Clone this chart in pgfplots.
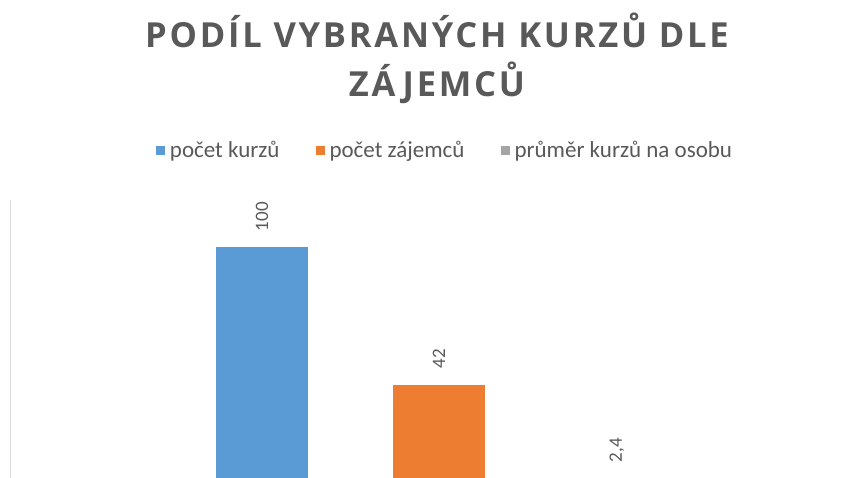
\documentclass[border=0pt]{standalone}
\usepackage{pgfplots}
\pgfplotsset{compat=1.18}
\usepackage{fontspec}
\setmainfont{Carlito}
\newfontfamily\titlefont[LetterSpace=8]{Open Sans}
\definecolor{cblue}{HTML}{5B9BD5}
\definecolor{corange}{HTML}{ED7D31}
\definecolor{cgray}{HTML}{A5A5A5}
\definecolor{ctext}{HTML}{595959}
\definecolor{caxis}{HTML}{D9D9D9}
\begin{document}
\begin{tikzpicture}
\begin{axis}[
  at={(0,0)}, anchor=origin,
  scale only axis,
  width=858bp, height=284bp,
  xmin=0, xmax=858, ymin=0, ymax=120,
  axis x line=none,
  axis y line*=left,
  y axis line style={draw=caxis, line width=0.9bp},
  ytick=\empty, xtick=\empty,
  clip=false,
  ybar, bar width=92, bar shift=0pt,
  /pgf/number format/use comma,
  /pgf/number format/assume math mode=true,
  nodes near coords,
  every node near coord/.append style={rotate=90, anchor=west, inner xsep=16bp, inner ysep=0pt,
    font=\fontsize{19bp}{22bp}\selectfont, text=ctext},
  legend columns=3,
  legend style={at={(0.507,1.176)}, anchor=center, draw=none, fill=none,
    font=\fontsize{23bp}{26bp}\selectfont, text=ctext,
    /tikz/every even column/.append style={column sep=34bp}},
  legend cell align=left,
]
\addplot[fill=cblue, draw=none, bar shift=0pt, legend image code/.code={\fill[cblue] (0bp,-4.5bp) rectangle (9bp,4.5bp);}] coordinates {(252,100)};
\addplot[fill=corange, draw=none, bar shift=0pt, legend image code/.code={\fill[corange] (0bp,-4.5bp) rectangle (9bp,4.5bp);}] coordinates {(429,42)};
\addplot[fill=cgray, draw=none, bar shift=0pt, legend image code/.code={\fill[cgray] (0bp,-4.5bp) rectangle (9bp,4.5bp);}] coordinates {(607,2.4)};
\legend{\hspace{3bp}počet kurzů, \hspace{3bp}počet zájemců, \hspace{3bp}průměr kurzů na osobu}
\end{axis}
\node[anchor=base, text=ctext, inner sep=0pt, font=\titlefont\bfseries\fontsize{34.5bp}{40bp}\selectfont] at (427bp,436bp) {PODÍL VYBRANÝCH KURZŮ DLE};
\node[anchor=base, text=ctext, inner sep=0pt, font=\titlefont\bfseries\fontsize{34.5bp}{40bp}\selectfont] at (427bp,387bp) {ZÁJEMCŮ};
\pgfresetboundingbox
\path[use as bounding box] (-10bp,6bp) rectangle (844bp,484bp);
\end{tikzpicture}
\end{document}
